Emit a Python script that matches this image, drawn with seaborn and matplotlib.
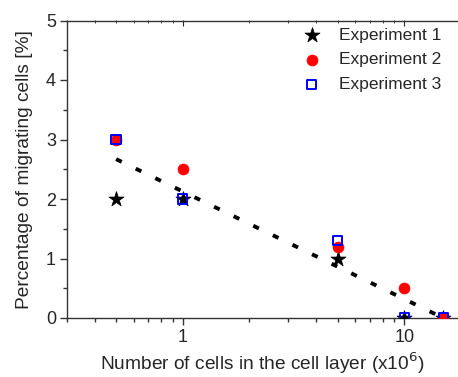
import matplotlib
matplotlib.use("Agg")
import matplotlib.pyplot as plt
import seaborn as sns
import pandas as pd
from matplotlib.ticker import FixedLocator, NullFormatter, LogLocator

sns.set_style("ticks")
plt.rcParams['font.family'] = ['Liberation Sans', 'DejaVu Sans']

cells = [0.5, 1, 5, 10, 15]
exp1 = [2.0, 2.0, 1.0, 0.0, 0.0]
exp2 = [3.0, 2.5, 1.2, 0.5, 0.0]
exp3 = [3.0, 2.0, 1.3, 0.0, 0.0]
fit_x = [0.5, 15]
fit_y = [2.67, 0.0]

fig = plt.figure(figsize=(4.58, 3.77), dpi=100)
ax = fig.add_axes([67/458, 59/377, 390/458, 297.5/377])

ax.set_xscale('log')
sns.lineplot(x=fit_x, y=fit_y, ax=ax, color='black', lw=2.8,
             linestyle=(0, (1.6, 4.0)), zorder=2)
sns.scatterplot(x=cells, y=exp1, ax=ax, marker='*', s=130, color='black',
                edgecolor='black', linewidth=0.5, label='Experiment 1', zorder=3)
sns.scatterplot(x=cells, y=exp2, ax=ax, marker='o', s=62, color='red',
                edgecolor='red', linewidth=0.5, label='Experiment 2', zorder=4)
sns.scatterplot(x=cells, y=exp3, ax=ax, marker='s', s=45, facecolor='none',
                edgecolor='blue', linewidth=1.4, label='Experiment 3', zorder=5)

ax.set_xlim(0.3, 17.3)
ax.set_ylim(0, 5)
ax.set_yticks([0, 1, 2, 3, 4, 5])
ax.yaxis.set_minor_locator(FixedLocator([0.5, 1.5, 2.5, 3.5, 4.5]))
ax.set_xticks([1, 10])
ax.set_xticklabels(['1', '10'])
ax.xaxis.set_minor_locator(LogLocator(base=10, subs=range(2, 10)))
ax.xaxis.set_minor_formatter(NullFormatter())

for s in ax.spines.values():
    s.set_linewidth(1.0)
    s.set_color('#333333')
ax.spines['right'].set_visible(False)
ax.spines['top'].set_visible(True)

ax.tick_params(axis='both', which='major', direction='out', length=5, width=1,
               labelsize=13, color='#333333', pad=3)
ax.tick_params(axis='both', which='minor', direction='out', length=3, width=1,
               color='#333333')
ax.tick_params(axis='x', which='both', top=False)

sec = ax.secondary_xaxis('top')
sec.set_xscale('log')
sec.set_xticks([1, 10])
sec.xaxis.set_minor_locator(LogLocator(base=10, subs=range(2, 10)))
sec.xaxis.set_minor_formatter(NullFormatter())
sec.tick_params(which='major', direction='in', length=4, labeltop=False)
sec.tick_params(which='minor', direction='in', length=2)
sec.spines['top'].set_visible(False)

ax.set_xlabel('Number of cells in the cell layer (x10$^6$)', fontsize=13.8, labelpad=3)
ax.set_ylabel('Percentage of migrating cells [%]', fontsize=13.8, labelpad=9)

leg = ax.legend(loc='upper left', bbox_to_anchor=(0.552, 1.017), frameon=False,
                fontsize=12.5, handletextpad=0.55, labelspacing=0.55, borderaxespad=0.3)

fig.savefig('out.png', dpi=100)
